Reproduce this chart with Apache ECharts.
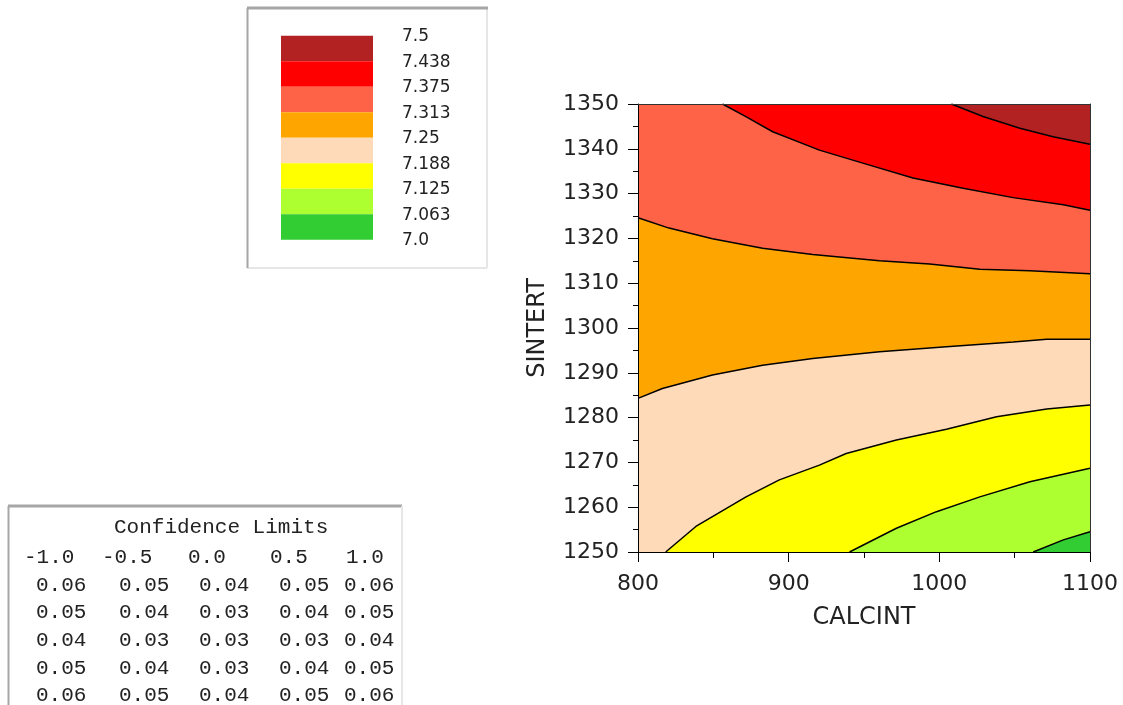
<!DOCTYPE html>
<html>
<head>
<meta charset="utf-8">
<script src="https://cdn.jsdelivr.net/npm/echarts@6/dist/echarts.min.js"></script>
<style>
  html, body { margin: 0; padding: 0; background: #ffffff; }
  #chart { width: 1123px; height: 705px; }
</style>
</head>
<body>
<div id="chart"></div>
<script>
// Response surface levels (legend, top to bottom) and band fill colours
const levelLabels = ['7.5', '7.438', '7.375', '7.313', '7.25', '7.188', '7.125', '7.063', '7.0'];
const bandColors = ['#B22222', '#FF0000', '#FF6347', '#FFA500', '#FFDAB9', '#FFFF00', '#ADFF2F', '#32CD32'];

// Contour lines as [CALCINT, SINTERT] points, lowest level first
const contour7063 = [[1062.3, 1250], [1082.3, 1252.7], [1100, 1254.5]];
const contour7125 = [[940.4, 1250], [971.5, 1255.3], [998.1, 1259.0], [1026.9, 1262.3], [1060.1, 1265.7], [1100, 1268.7]];
const contour7188 = [[818.4, 1250], [838.4, 1255.7], [871.7, 1262.3], [893.8, 1266.1], [920.4, 1269.4], [938.2, 1272.0],
                     [971.5, 1275.0], [1004.7, 1277.4], [1038, 1280.2], [1071.3, 1281.9], [1100, 1282.8]];
const contour725  = [[800, 1284.3], [816.2, 1286.5], [849.4, 1289.5], [882.7, 1291.7], [916, 1293.2], [960.3, 1294.7],
                     [1004.7, 1295.8], [1049, 1296.9], [1071.3, 1297.5], [1100, 1297.5]];
const contour7313 = [[800, 1324.6], [820.6, 1322.3], [849.4, 1319.9], [882.7, 1317.8], [916, 1316.4], [960.3, 1315.0],
                     [993.6, 1314.3], [1026.9, 1313.1], [1060.1, 1312.8], [1100, 1312.1]];
const contour7375 = [[856.1, 1350], [871.6, 1347.2], [889.4, 1343.8], [920.4, 1339.7], [949.2, 1336.8], [982.5, 1333.5],
                     [1015.8, 1331.2], [1049, 1329.1], [1082.3, 1327.5], [1100, 1326.3]];
const contour7438 = [[1008, 1350], [1029, 1347.2], [1053.5, 1344.6], [1075.5, 1342.7], [1100, 1341.0]];

// Axis ranges
const xRange = [800, 1100];
const yRange = [1250, 1350];

// Confidence limits table
const confTitle = 'Confidence Limits';
const confHeader = ['-1.0', '-0.5', '0.0', '0.5', '1.0'];
const confRows = [
  ['0.06', '0.05', '0.04', '0.05', '0.06'],
  ['0.05', '0.04', '0.03', '0.04', '0.05'],
  ['0.04', '0.03', '0.03', '0.03', '0.04'],
  ['0.05', '0.04', '0.03', '0.04', '0.05'],
  ['0.06', '0.05', '0.04', '0.05', '0.06']
];

const contours = [contour7063, contour7125, contour7188, contour725, contour7313, contour7375, contour7438];

// Colour of the band above each contour (bottom band fills the whole plot first)
const fillColors = bandColors.slice().reverse(); // bottom to top
const [X0, X1] = xRange, [Y0, Y1] = yRange;
const corners = [[X0, Y0], [X1, Y0], [X1, Y1], [X0, Y1]];

// Position of a boundary point along the plot perimeter, counter-clockwise from bottom-left
function perim(p) {
  const eps = 1e-6, x = p[0], y = p[1];
  if (Math.abs(y - Y0) < eps && x < X1 - eps) return (x - X0) / (X1 - X0);
  if (Math.abs(x - X1) < eps && y < Y1 - eps) return 1 + (y - Y0) / (Y1 - Y0);
  if (Math.abs(y - Y1) < eps && x > X0 + eps) return 2 + (X1 - x) / (X1 - X0);
  return 3 + (Y1 - y) / (Y1 - Y0);
}

// Region on the high side of a contour: the line plus the plot corners it encloses
function highRegion(line) {
  const pts = line.slice();
  const tEnd = perim(line[line.length - 1]);
  let tStart = perim(line[0]);
  if (tStart <= tEnd) tStart += 4;
  for (let m = Math.floor(tEnd) + 1; m < tStart; m++) pts.push(corners[m % 4]);
  return pts;
}

const fillRegions = [corners].concat(contours.map(highRegion));

const chart = echarts.init(document.getElementById('chart'), null, { renderer: 'canvas' });

const axisFont = { fontFamily: 'DejaVu Sans', fontSize: 22, color: '#222', formatter: v => String(v) };

const series = [{
  type: 'custom',
  coordinateSystem: 'cartesian2d',
  silent: true,
  z: 1,
  data: fillRegions.map((r, i) => [i]),
  renderItem: function (params, api) {
    const region = fillRegions[params.dataIndex];
    return {
      type: 'polygon',
      shape: { points: region.map(p => api.coord(p)) },
      style: { fill: fillColors[params.dataIndex], stroke: null }
    };
  }
}];

contours.forEach(function (line) {
  series.push({
    type: 'line',
    data: line,
    symbol: 'none',
    silent: true,
    z: 3,
    animation: false,
    lineStyle: { color: '#000', width: 1.5 }
  });
});

// Legend swatches and level labels
const graphics = [];
graphics.push({ type: 'rect', shape: { x: 247, y: 8, width: 240, height: 260 },
  style: { fill: '#fff', stroke: null }, z: 0 });
graphics.push({ type: 'line', shape: { x1: 247, y1: 268, x2: 487, y2: 268 }, style: { stroke: '#e6e6e6', lineWidth: 2 } });
graphics.push({ type: 'line', shape: { x1: 487, y1: 8, x2: 487, y2: 268 }, style: { stroke: '#e6e6e6', lineWidth: 2 } });
graphics.push({ type: 'line', shape: { x1: 247, y1: 8, x2: 488, y2: 8 }, style: { stroke: '#a6a6a6', lineWidth: 3 } });
graphics.push({ type: 'line', shape: { x1: 247.5, y1: 8, x2: 247.5, y2: 268 }, style: { stroke: '#a6a6a6', lineWidth: 2 } });

const swX = 281, swY = 35.7, swW = 92, swH = 25.5;
bandColors.forEach(function (c, i) {
  graphics.push({ type: 'rect', shape: { x: swX, y: swY + i * swH, width: swW, height: swH },
    style: { fill: c, stroke: null } });
});
levelLabels.forEach(function (t, i) {
  graphics.push({ type: 'text', x: 402, y: swY + 1 + i * swH,
    style: { text: t, fontFamily: 'DejaVu Sans', fontSize: 17, fill: '#222', verticalAlign: 'middle', align: 'left' } });
});

// Confidence limits table
graphics.push({ type: 'line', shape: { x1: 8, y1: 506, x2: 402, y2: 506 }, style: { stroke: '#a6a6a6', lineWidth: 3 } });
graphics.push({ type: 'line', shape: { x1: 8.5, y1: 506, x2: 8.5, y2: 705 }, style: { stroke: '#a6a6a6', lineWidth: 2 } });
graphics.push({ type: 'line', shape: { x1: 402, y1: 506, x2: 402, y2: 705 }, style: { stroke: '#e6e6e6', lineWidth: 2 } });

const monoFont = { fontFamily: 'Liberation Mono', fontSize: 21, fill: '#222', verticalAlign: 'middle', align: 'left' };
graphics.push({ type: 'text', x: 114, y: 527, style: Object.assign({ text: confTitle }, monoFont) });
const headX = [24, 102, 188, 270, 346];
const rowX = [36, 119, 199, 279, 344];
const rowY = [557, 585, 612.5, 640, 668, 695];
confHeader.forEach(function (t, j) {
  graphics.push({ type: 'text', x: headX[j], y: rowY[0], style: Object.assign({ text: t }, monoFont) });
});
confRows.forEach(function (row, i) {
  row.forEach(function (t, j) {
    graphics.push({ type: 'text', x: rowX[j], y: rowY[i + 1], style: Object.assign({ text: t }, monoFont) });
  });
});

const option = {
  backgroundColor: '#ffffff',
  animation: false,
  grid: { left: 638, top: 104, right: 33, bottom: 153, containLabel: false },
  xAxis: [{
    type: 'value', min: xRange[0], max: xRange[1], interval: 100, z: 10,
    name: 'CALCINT', nameLocation: 'middle', nameGap: 54,
    nameTextStyle: { fontFamily: 'DejaVu Sans', fontSize: 24, color: '#222' },
    axisLine: { show: true, onZero: false, lineStyle: { color: '#000', width: 1 } },
    axisTick: { show: true, length: 10, lineStyle: { color: '#000' } },
    minorTick: { show: true, splitNumber: 2, length: 6, lineStyle: { color: '#000' } },
    axisLabel: Object.assign({ margin: 21 }, axisFont),
    splitLine: { show: false }
  }, {
    type: 'value', min: xRange[0], max: xRange[1], position: 'top', z: 10,
    axisLine: { show: true, onZero: false, lineStyle: { color: '#333', width: 1 } },
    axisTick: { show: false }, axisLabel: { show: false }, splitLine: { show: false }
  }],
  yAxis: [{
    type: 'value', min: yRange[0], max: yRange[1], interval: 10, z: 10,
    name: 'SINTERT', nameLocation: 'middle', nameGap: 88, nameRotate: 90,
    nameTextStyle: { fontFamily: 'DejaVu Sans', fontSize: 24, color: '#222' },
    axisLine: { show: true, onZero: false, lineStyle: { color: '#000', width: 1 } },
    axisTick: { show: true, length: 10, lineStyle: { color: '#000' } },
    minorTick: { show: true, splitNumber: 2, length: 5, lineStyle: { color: '#000' } },
    axisLabel: Object.assign({ margin: 19 }, axisFont),
    splitLine: { show: false }
  }, {
    type: 'value', min: yRange[0], max: yRange[1], position: 'right', z: 10,
    axisLine: { show: true, onZero: false, lineStyle: { color: '#333', width: 1 } },
    axisTick: { show: false }, axisLabel: { show: false }, splitLine: { show: false }
  }],
  series: series,
  graphic: graphics
};

chart.setOption(option);
</script>
</body>
</html>
